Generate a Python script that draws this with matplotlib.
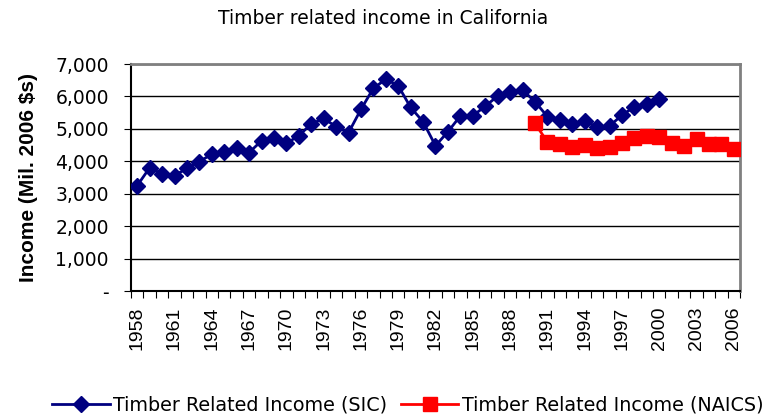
import matplotlib
matplotlib.use("Agg")
import matplotlib.pyplot as plt
import numpy as np

years = list(range(1958, 2007))
sic_years = list(range(1958, 2001))
sic_values = [3250, 3800, 3610, 3560, 3780, 3990, 4220, 4300, 4420, 4270,
              4630, 4710, 4550, 4790, 5150, 5320, 5070, 4880, 5600, 6250,
              6530, 6330, 5660, 5220, 4480, 4910, 5400, 5400, 5700, 6010,
              6140, 6200, 5840, 5380, 5270, 5150, 5250, 5050, 5090, 5420,
              5680, 5760, 5910]
naics_years = list(range(1990, 2007))
naics_values = [5170, 4600, 4520, 4450, 4500, 4400, 4430, 4570, 4710, 4780,
                4760, 4550, 4470, 4680, 4530, 4530, 4370]
yticks = [0, 1000, 2000, 3000, 4000, 5000, 6000, 7000]
ytick_labels = ["-", "1,000", "2,000", "3,000", "4,000", "5,000", "6,000", "7,000"]

plt.rcParams['font.family'] = ['DejaVu Sans']
narrow = ['Liberation Sans', 'DejaVu Sans']

fig = plt.figure(figsize=(7.73, 4.17), dpi=100)
ax = fig.add_axes([131/773, (417-291)/417, (740-131)/773, (291-64)/417])

xi_sic = [years.index(y) for y in sic_years]
xi_naics = [years.index(y) for y in naics_years]

ax.plot(xi_sic, sic_values, color='#000080', lw=2, marker='D', ms=8.5,
        mec='#000080', mfc='#000080', label='Timber Related Income (SIC)', zorder=3)
ax.plot(xi_naics, naics_values, color='#ff0000', lw=2, marker='s', ms=10.5,
        mec='#ff0000', mfc='#ff0000', label='Timber Related Income (NAICS)', zorder=4)

ax.set_xlim(-0.5, len(years) - 0.5)
ax.set_ylim(0, 7000)
ax.set_yticks(yticks)
ax.set_yticklabels(ytick_labels, fontsize=13.5)
ax.yaxis.grid(True, color='black', lw=1)
ax.set_axisbelow(True)

ax.set_xticks(np.arange(-0.5, len(years) + 0.5, 1), minor=False)
ax.set_xticklabels([])
lab_idx = list(range(0, len(years), 3))
ax.set_xticks(lab_idx, minor=True)
ax.set_xticklabels([str(years[i]) for i in lab_idx], minor=True, rotation=90,
                   fontsize=14, family=narrow)
ax.tick_params(axis='x', which='minor', length=0, pad=11.5)
ax.tick_params(axis='x', which='major', length=5, direction='out', color='black')
ax.tick_params(axis='y', length=5, direction='out', color='black', pad=11)

for s in ['top', 'right']:
    ax.spines[s].set_color('#808080')
    ax.spines[s].set_linewidth(2)
ax.spines['left'].set_color('black')
ax.spines['bottom'].set_color('black')
ax.spines['left'].set_linewidth(1.5)
ax.spines['bottom'].set_linewidth(1.5)

ax.set_ylabel('Income (Mil. 2006 $s)', fontsize=15, fontweight='bold', family=narrow)
ax.yaxis.set_label_coords((28 - 131) / (740 - 131), 0.5)
ax.yaxis.label.set_va('center')

fig.text(383/773, 1 - 18/417, 'Timber related income in California',
         ha='center', va='center', fontsize=13.5)

fig.legend(loc='center', bbox_to_anchor=(408/773, 1 - 405/417), ncol=2, frameon=False,
           fontsize=13.8, handlelength=3.0, columnspacing=0.7, handletextpad=0.2)

fig.savefig('out.png', dpi=100)
